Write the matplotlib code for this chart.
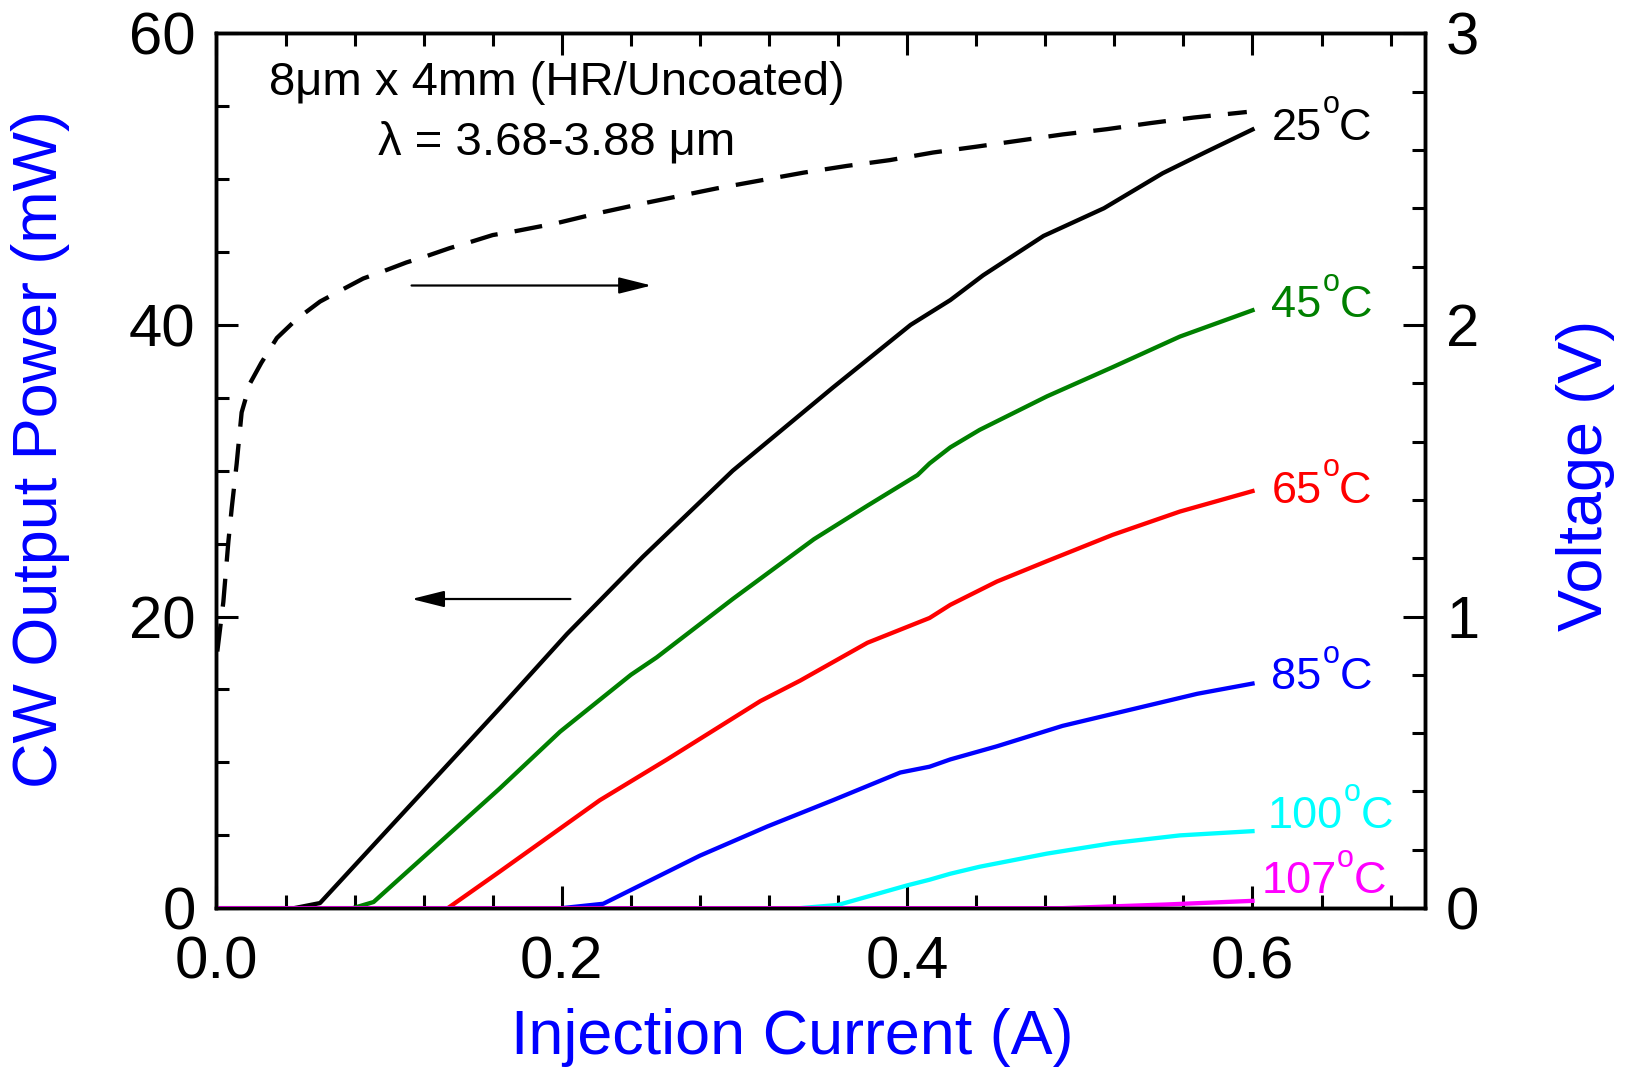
import matplotlib
matplotlib.use("Agg")
import matplotlib.pyplot as plt
from matplotlib.ticker import MultipleLocator

plt.rcParams['font.family'] = ['Liberation Sans', 'DejaVu Sans']

# L-I Kurven (Strom in A, Leistung in mW)
i_25 = [0, 0.045, 0.060, 0.164, 0.203, 0.247, 0.299, 0.357, 0.402, 0.425, 0.444, 0.479, 0.514, 0.548, 0.572, 0.600]
p_25 = [0, 0, 0.35, 13.7, 18.8, 24.1, 30.0, 35.7, 40.0, 41.7, 43.4, 46.1, 48.0, 50.4, 51.8, 53.4]

i_45 = [0, 0.079, 0.091, 0.164, 0.199, 0.240, 0.255, 0.299, 0.346, 0.377, 0.406, 0.413, 0.425, 0.442, 0.481, 0.519, 0.558, 0.600]
p_45 = [0, 0, 0.42, 8.2, 12.1, 16.0, 17.2, 21.2, 25.3, 27.6, 29.7, 30.5, 31.6, 32.8, 35.1, 37.1, 39.2, 41.0]

i_65 = [0, 0.134, 0.164, 0.222, 0.261, 0.315, 0.338, 0.377, 0.413, 0.425, 0.452, 0.481, 0.519, 0.558, 0.600]
p_65 = [0, 0, 2.5, 7.4, 10.2, 14.2, 15.6, 18.2, 19.9, 20.8, 22.4, 23.8, 25.6, 27.2, 28.6]

i_85 = [0, 0.200, 0.224, 0.280, 0.319, 0.357, 0.396, 0.413, 0.425, 0.452, 0.490, 0.529, 0.568, 0.600]
p_85 = [0, 0, 0.3, 3.6, 5.6, 7.4, 9.3, 9.7, 10.2, 11.1, 12.5, 13.6, 14.7, 15.4]

i_100 = [0, 0.338, 0.360, 0.400, 0.413, 0.425, 0.442, 0.481, 0.519, 0.558, 0.600]
p_100 = [0, 0, 0.22, 1.56, 1.95, 2.36, 2.84, 3.74, 4.46, 4.99, 5.28]

i_107 = [0, 0.490, 0.550, 0.600]
p_107 = [0, 0, 0.25, 0.5]

# I-V Kurve (Spannung in V)
i_v = [0.0005, 0.004, 0.0069, 0.0089, 0.0117, 0.0146, 0.0195, 0.026, 0.035, 0.0465, 0.060, 0.0716,
       0.085, 0.0967, 0.110, 0.1218, 0.135, 0.147, 0.160, 0.172, 0.1965, 0.221, 0.2475, 0.2897,
       0.3148, 0.340, 0.365, 0.390, 0.415, 0.440, 0.465, 0.490, 0.5156, 0.541, 0.566, 0.5967]
v = [0.88, 1.05, 1.256, 1.374, 1.523, 1.70, 1.80, 1.87, 1.955, 2.02, 2.08, 2.117,
     2.159, 2.184, 2.214, 2.236, 2.263, 2.284, 2.308, 2.32, 2.348, 2.383, 2.417, 2.468,
     2.495, 2.522, 2.545, 2.565, 2.591, 2.611, 2.632, 2.653, 2.671, 2.692, 2.711, 2.730]

kurven = [
    (i_25, p_25, 'black', '25', 53.5, 0.611),
    (i_45, p_45, '#008000', '45', 41.3, 0.611),
    (i_65, p_65, 'red', '65', 28.6, 0.611),
    (i_85, p_85, 'blue', '85', 15.8, 0.611),
    (i_100, p_100, 'cyan', '100', 6.3, 0.609),
    (i_107, p_107, 'magenta', '107', 1.8, 0.605),
]

fig = plt.figure(figsize=(16.31, 10.76), dpi=100)
ax = fig.add_axes([0.1327, 0.1560, 0.7411, 0.8131])
ax2 = ax.twinx()

for x, y, farbe, temp, ly, lx in kurven:
    ax.plot(x, y, color=farbe, lw=3.1, solid_joinstyle='round', zorder=3)
    # Temperatur + hochgestelltes o + C
    t1 = ax.text(lx, ly, temp, color=farbe, fontsize=32.5, ha='left', va='center')
    t2 = ax.annotate('o', xy=(1, 0), xycoords=t1, xytext=(0.5, 25.5),
                     textcoords='offset points', color=farbe, fontsize=22,
                     ha='left', va='baseline')
    ax.annotate('C', xy=(1, 0), xycoords=(t2, t1), color=farbe, fontsize=32.5,
                ha='left', va='bottom')

ax2.plot(i_v, v, color='black', lw=3.1, dashes=(6.5, 4.0))

ax.set_xlim(0, 0.7)
ax.set_ylim(0, 60)
ax2.set_ylim(0, 3)

ax.xaxis.set_major_locator(MultipleLocator(0.2))
ax.xaxis.set_minor_locator(MultipleLocator(0.04))
ax.yaxis.set_major_locator(MultipleLocator(20))
ax.yaxis.set_minor_locator(MultipleLocator(5))
ax2.yaxis.set_major_locator(MultipleLocator(1))
ax2.yaxis.set_minor_locator(MultipleLocator(0.2))

ax.set_xticks([0, 0.2, 0.4, 0.6])
ax.set_xticklabels(['0.0', '0.2', '0.4', '0.6'])

for a in (ax, ax2):
    for s in a.spines.values():
        s.set_linewidth(2.5)
ax.tick_params(which='both', direction='in', top=True, right=False, width=2.2,
               labelsize=43, colors='black')
ax.tick_params(which='major', length=16)
ax.tick_params(which='minor', length=9.5)
ax.tick_params(axis='x', pad=20)
ax.tick_params(axis='y', pad=15)
ax2.tick_params(which='both', direction='in', width=2.2, labelsize=43, pad=15)
ax2.tick_params(which='major', length=16)
ax2.tick_params(which='minor', length=9.5)

# Achsentitel
fig.text(0.486, 0.036, 'Injection Current (A)', color='blue', fontsize=45.3,
         ha='center', va='center')
fig.text(0.025, 0.583, 'CW Output Power (mW)', color='blue', fontsize=45.3,
         ha='center', va='center', rotation=90)
fig.text(0.972, 0.558, 'Voltage (V)', color='blue', fontsize=45.3,
         ha='center', va='center', rotation=90)

# Beschriftung
ax.text(0.197, 56.6, '8\u03bcm x 4mm (HR/Uncoated)', fontsize=34, ha='center', va='center')
ax.text(0.197, 52.5, '\u03bb = 3.68-3.88 \u03bcm', fontsize=34, ha='center', va='center')

# Pfeile
pfeil = dict(arrowstyle='-|>,head_length=1.0,head_width=0.25', color='black',
             lw=1.6, mutation_scale=20, shrinkA=0, shrinkB=0)
ax.annotate('', xy=(0.252, 42.7), xytext=(0.113, 42.7), arrowprops=pfeil)
ax.annotate('', xy=(0.113, 21.2), xytext=(0.205, 21.2), arrowprops=pfeil)

fig.savefig('out.png', dpi=100)
